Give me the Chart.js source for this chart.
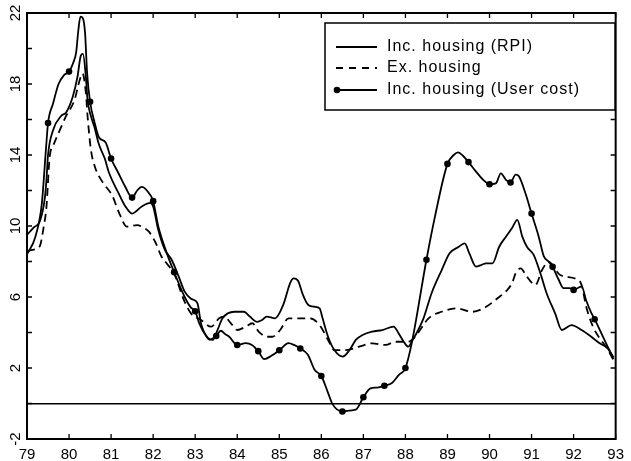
<!DOCTYPE html>
<html>
<head>
<meta charset="utf-8">
<script src="https://cdn.jsdelivr.net/npm/chart.js@4.4.1/dist/chart.umd.min.js"></script>
<style>
  html, body { margin: 0; padding: 0; background: #fff; }
  canvas { display: block; }
</style>
</head>
<body>
<canvas id="grafica" width="631" height="461"></canvas>
<script>
// years (decimal) and % values
const rpiX = [79.0, 79.15, 79.31, 79.42, 79.46, 79.5, 79.62, 79.81, 79.93, 80.09, 80.2, 80.28, 80.33, 80.4, 80.44, 80.52, 80.6, 80.71, 80.85, 80.95,
  81.18, 81.34, 81.5, 81.73, 81.93, 82.0, 82.12, 82.28, 82.44, 82.6, 82.75, 82.9, 83.0, 83.06, 83.14, 83.3, 83.42, 83.53, 83.65, 83.93,
  84.16, 84.3, 84.47, 84.59, 84.7, 84.9, 85.1, 85.26, 85.34, 85.45, 85.55, 85.69, 85.84, 85.96, 86.03, 86.16, 86.31, 86.51, 86.67, 86.82,
  86.98, 87.21, 87.45, 87.72, 87.84, 87.96, 88.07, 88.15, 88.43, 88.62, 88.86, 89.05, 89.25, 89.41, 89.52, 89.68, 89.8, 89.92, 90.07, 90.23,
  90.39, 90.54, 90.66, 90.78, 90.89, 91.05, 91.21, 91.36, 91.56, 91.72, 91.95, 92.19, 92.42, 92.62, 92.81, 92.95];
const rpiY = [9.5, 9.9, 10.3, 11.5, 12.5, 14.0, 15.4, 16.2, 16.4, 17.3, 18.4, 19.6, 19.7, 18.4, 17.1, 16.2, 15.6, 14.6, 13.8, 13.0,
  11.84, 11.1, 10.7, 11.1, 11.3, 11.1, 9.8, 8.65, 8.1, 7.2, 6.3, 5.9, 5.8, 5.6, 4.5, 3.7, 3.58, 4.14, 4.8, 5.17,
  5.17, 4.9, 4.6, 4.7, 4.9, 4.8, 5.6, 6.8, 7.05, 6.9, 6.2, 5.55, 5.45, 5.36, 4.8, 3.76, 3.01, 2.64, 3.01, 3.58,
  3.86, 4.05, 4.14, 4.33, 3.95, 3.48, 3.2, 3.48, 4.8, 6.2, 7.5, 8.46, 8.8, 9.02, 8.46, 7.71, 7.8, 7.9, 7.9, 8.83,
  9.4, 9.9, 10.35, 9.4, 8.83, 8.37, 7.33, 6.2, 5.08, 4.14, 4.42, 4.14, 3.76, 3.39, 3.11, 2.6];

const exX = [79.0, 79.2, 79.31, 79.4, 79.46, 79.54, 79.62, 79.78, 79.93, 80.13, 80.25, 80.32, 80.4, 80.44, 80.52, 80.62, 80.79, 81.03, 81.18, 81.38,
  81.62, 81.73, 81.9, 82.05, 82.2, 82.32, 82.5, 82.75, 82.9, 83.14, 83.38, 83.57, 83.69, 83.85, 84.0, 84.2, 84.36, 84.51, 84.71, 84.83,
  85.02, 85.22, 85.49, 85.73, 85.96, 86.16, 86.31, 86.59, 86.9, 87.21, 87.53, 87.76, 88.07, 88.23, 88.55, 88.86, 89.21, 89.6, 89.92, 90.19,
  90.42, 90.54, 90.62, 90.74, 90.89, 91.09, 91.25, 91.4, 91.68, 92.11, 92.19, 92.3, 92.46, 92.62, 92.77, 92.95];
const exY = [8.6, 8.7, 8.9, 10.0, 11.0, 13.9, 14.5, 15.4, 16.2, 17.1, 18.2, 18.6, 17.5, 16.2, 14.3, 13.3, 12.5, 11.7, 10.8, 9.96,
  10.05, 9.96, 9.68, 9.1, 8.27, 7.9, 7.3, 5.73, 5.08, 4.7, 4.33, 4.8, 4.89, 4.52, 4.14, 4.33, 4.52, 4.05, 3.76, 3.76,
  4.14, 4.8, 4.8, 4.8, 4.42, 3.58, 3.01, 3.01, 3.2, 3.39, 3.3, 3.48, 3.48, 3.76, 4.8, 5.17, 5.36, 5.17, 5.45, 5.93,
  6.39, 6.8, 7.33, 7.61, 7.14, 6.68, 7.52, 7.99, 7.24, 6.96, 6.68, 5.45, 4.33, 3.67, 3.2, 2.45];

const userX = [79.0, 79.2, 79.35, 79.45, 79.5, 79.62, 79.75, 79.88, 80.0, 80.1, 80.17, 80.22, 80.27, 80.33, 80.38, 80.43, 80.5, 80.6, 80.71, 80.87,
  81.0, 81.17, 81.34, 81.5, 81.62, 81.73, 81.85, 82.0, 82.12, 82.32, 82.5, 82.75, 82.9, 83.0, 83.1, 83.26, 83.34, 83.5, 83.61, 83.72,
  83.81, 84.0, 84.2, 84.35, 84.5, 84.64, 84.82, 85.0, 85.22, 85.35, 85.5, 85.68, 85.84, 86.0, 86.16, 86.27, 86.5, 86.65, 86.82, 87.0,
  87.17, 87.33, 87.5, 87.68, 87.84, 88.0, 88.15, 88.5, 88.7, 89.0, 89.15, 89.25, 89.35, 89.5, 89.68, 89.85, 90.0, 90.15, 90.27, 90.39,
  90.5, 90.62, 90.7, 90.86, 91.0, 91.17, 91.29, 91.4, 91.5, 91.64, 91.76, 91.9, 92.0, 92.19, 92.3, 92.42, 92.5, 92.7, 92.85, 92.95];
const userY = [8.4, 9.4, 11.2, 14.3, 15.8, 16.9, 18.0, 18.5, 18.7, 19.2, 19.8, 21.0, 21.8, 21.7, 20.9, 18.6, 17.0, 15.9, 15.0, 14.7,
  13.8, 13.0, 12.2, 11.6, 12.0, 12.2, 12.0, 11.4, 10.0, 8.5, 7.4, 6.0, 5.4, 5.2, 4.5, 3.8, 3.6, 3.8, 4.1, 3.9,
  3.76, 3.3, 3.4, 3.3, 2.95, 2.5, 2.7, 3.0, 3.4, 3.3, 3.1, 2.75, 1.9, 1.55, 0.6, -0.05, -0.45, -0.4, -0.35, 0.35,
  0.85, 0.9, 1.0, 1.15, 1.6, 2.0, 3.4, 8.1, 10.5, 13.5, 14.0, 14.15, 14.0, 13.6, 13.06, 12.6, 12.35, 12.4, 12.97, 12.6,
  12.45, 12.9, 12.8, 11.8, 10.7, 9.4, 8.3, 8.0, 7.7, 7.0, 6.5, 6.5, 6.4, 6.6, 5.8, 5.1, 4.75, 3.75, 3.0, 2.5];

const etiquetas = ['Inc. housing (RPI)', 'Ex. housing', 'Inc. housing (User cost)'];

const fuente = 'Liberation Sans, Arial, sans-serif';
const puntos = (xs, ys) => xs.map((v, i) => ({ x: v, y: ys[i] }));

// marco, marcas hacia dentro y leyenda
const marco = {
  id: 'marco',
  afterDraw(chart) {
    const { ctx, chartArea: a, scales: { x, y } } = chart;
    ctx.save();
    ctx.strokeStyle = '#000';
    ctx.lineWidth = 2;
    ctx.strokeRect(a.left, a.top, a.right - a.left, a.bottom - a.top);
    ctx.lineWidth = 1.3;
    ctx.beginPath();
    x.ticks.forEach(t => {
      const px = x.getPixelForValue(t.value);
      ctx.moveTo(px, a.bottom); ctx.lineTo(px, a.bottom - 5);
      ctx.moveTo(px, a.top); ctx.lineTo(px, a.top + 5);
    });
    y.ticks.forEach(t => {
      const py = y.getPixelForValue(t.value);
      ctx.moveTo(a.left, py); ctx.lineTo(a.left + 5, py);
      ctx.moveTo(a.right, py); ctx.lineTo(a.right - 5, py);
    });
    ctx.stroke();

    // leyenda
    const bx = 325, by = 23, bw = 290, bh = 87;
    ctx.fillStyle = '#fff';
    ctx.fillRect(bx, by, bw, bh);
    ctx.lineWidth = 1.5;
    ctx.strokeRect(bx, by, bw, bh);
    const filas = [47, 68, 90];
    ctx.lineWidth = 1.8;
    filas.forEach((fy, i) => {
      ctx.setLineDash(i === 1 ? [7, 6] : []);
      ctx.beginPath();
      ctx.moveTo(336, fy); ctx.lineTo(377, fy);
      ctx.stroke();
    });
    ctx.setLineDash([]);
    ctx.fillStyle = '#000';
    ctx.beginPath();
    ctx.arc(337, filas[2], 3.3, 0, Math.PI * 2);
    ctx.fill();
    ctx.font = '16px ' + fuente;
    ctx.letterSpacing = '1px';
    ctx.textBaseline = 'middle';
    ctx.textAlign = 'left';
    etiquetas.forEach((t, i) => ctx.fillText(t, 387, filas[i]));
    ctx.restore();
  }
};

const ctx1 = document.getElementById('grafica');
new Chart(ctx1, {
  type: 'line',
  data: {
    datasets: [{
      label: etiquetas[0],
      data: puntos(rpiX, rpiY),
      borderColor: '#000',
      borderWidth: 1.8,
      pointRadius: 0,
      cubicInterpolationMode: 'monotone'
    }, {
      label: etiquetas[1],
      data: puntos(exX, exY),
      borderColor: '#000',
      borderWidth: 1.8,
      borderDash: [8, 5],
      pointRadius: 0,
      cubicInterpolationMode: 'monotone'
    }, {
      label: etiquetas[2],
      data: puntos(userX, userY),
      borderColor: '#000',
      backgroundColor: '#000',
      borderWidth: 1.8,
      // puntos cada medio año
      pointRadius: c => {
        const v = c.raw ? c.raw.x * 2 : 0.5;
        return (Math.abs(v - Math.round(v)) < 0.001 && c.raw.x > 79.2) ? 3.3 : 0;
      },
      pointBorderWidth: 0,
      cubicInterpolationMode: 'monotone'
    }]
  },
  options: {
    responsive: false,
    animation: false,
    layout: { padding: { top: 13, right: 8, left: 0, bottom: 0 } },
    plugins: {
      legend: { display: false },
      tooltip: { enabled: false }
    },
    scales: {
      x: {
        type: 'linear',
        min: 79,
        max: 93,
        ticks: {
          stepSize: 1,
          autoSkip: false,
          maxRotation: 0,
          padding: 7,
          color: '#000',
          font: { family: fuente, size: 15 },
          callback: v => String(v)
        },
        grid: { display: false, drawTicks: false },
        border: { display: false },
        afterFit: s => { s.height = 22; }
      },
      y: {
        min: -2,
        max: 22,
        ticks: {
          stepSize: 2,
          minRotation: 90,
          maxRotation: 90,
          crossAlign: 'center',
          padding: 3,
          color: '#000',
          font: { family: fuente, size: 15 },
          callback: v => ((v + 2) % 4 === 0 ? String(v) : '')
        },
        grid: {
          drawTicks: false,
          lineWidth: 1.5,
          color: c => (c.tick && c.tick.value === 0 ? '#000' : 'rgba(0,0,0,0)')
        },
        border: { display: false },
        afterFit: s => { s.width = 27; }
      }
    }
  },
  plugins: [marco]
});
</script>
</body>
</html>
